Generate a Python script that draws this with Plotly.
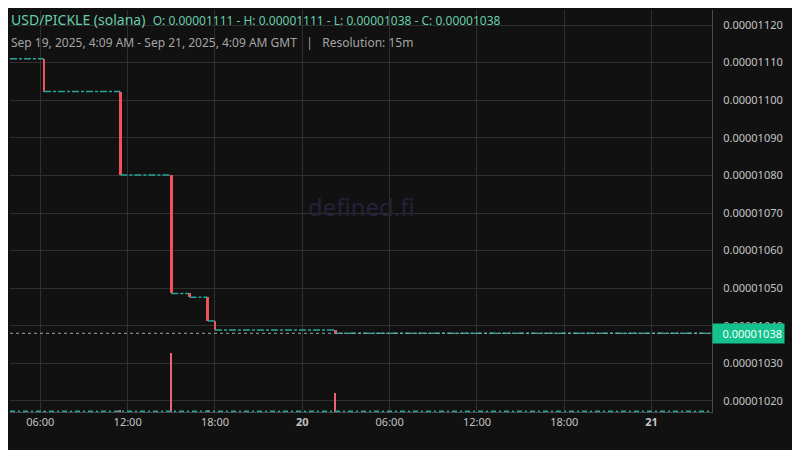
import plotly.graph_objects as go
import pandas as pd

# ---- data (prices in USD) ----
range_start = "2025-09-19 03:55"
range_end = "2025-09-21 04:09"

drop_times = ["2025-09-19 06:15", "2025-09-19 11:30", "2025-09-19 15:00",
              "2025-09-19 16:15", "2025-09-19 17:30", "2025-09-19 18:00",
              "2025-09-20 02:15"]
drop_open = [0.00001111, 0.000011023, 0.000010801, 0.000010487,
             0.000010476, 0.000010414, 0.000010390]
drop_close = [0.000011023, 0.000010801, 0.000010486, 0.000010476,
              0.000010413, 0.000010389, 0.00001038]

vol_times = ["2025-09-19 06:15", "2025-09-19 11:30", "2025-09-19 15:00",
             "2025-09-19 17:30", "2025-09-20 02:15"]
vol_values = [2.5, 4, 147, 4, 48]
vol_base = 1.0

last_close = 0.00001038
ohlc_text = "O: 0.00001111 - H: 0.00001111 - L: 0.00001038 - C: 0.00001038"

xtick_vals = ["2025-09-19 06:00", "2025-09-19 12:00", "2025-09-19 18:00",
              "2025-09-20 00:00", "2025-09-20 06:00", "2025-09-20 12:00",
              "2025-09-20 18:00", "2025-09-21 00:00"]
xtick_text = ["06:00", "12:00", "18:00", "<b>20</b>", "06:00", "12:00",
              "18:00", "<b>21</b>"]

# ---- styles ----
BG = "#111111"
GRID = "#2f2f2f"
UP = "#26a69a"
DOWN = "#f0525a"
VOL_DOWN = "#ea6479"
TEXT = "#c4c4c4"

fig = go.Figure()

# flat (unchanged) candles, drawn as dashed runs at each level
seg_starts = [range_start] + drop_times
seg_ends = drop_times + [range_end]
seg_levels = [drop_open[0]] + drop_close
for s, e, lv in zip(seg_starts, seg_ends, seg_levels):
    fig.add_trace(go.Scatter(
        x=[s, e], y=[lv, lv], mode="lines",
        line=dict(color=UP, width=1.5, dash="7px,2px,3px,2px"),
        hoverinfo="skip", showlegend=False, yaxis="y"))

# red candles
candle_w = 15 * 60 * 1000 * 0.8
fig.add_trace(go.Bar(
    x=pd.to_datetime(drop_times), y=[o - c for o, c in zip(drop_open, drop_close)],
    base=drop_close, width=candle_w, marker=dict(color=DOWN, line=dict(width=0)),
    showlegend=False, yaxis="y"))

# volume
fig.add_trace(go.Scatter(
    x=[range_start, range_end], y=[vol_base, vol_base], mode="lines",
    line=dict(color=UP, width=2, dash="5px,3px,2px,3px"),
    hoverinfo="skip", showlegend=False, yaxis="y2"))
fig.add_trace(go.Bar(
    x=pd.to_datetime(vol_times), y=vol_values, width=15 * 60 * 1000 * 0.6,
    marker=dict(color=VOL_DOWN, line=dict(width=0)),
    showlegend=False, yaxis="y2"))

# last price line
fig.add_shape(type="line", xref="paper", yref="y", x0=0, x1=1,
              y0=last_close, y1=last_close,
              line=dict(color="#9aa0a0", width=1, dash="dot"))

fig.update_layout(
    width=792, height=442,
    margin=dict(l=2, r=88, t=2, b=38),
    paper_bgcolor=BG, plot_bgcolor=BG,
    font=dict(family="Noto Sans", color=TEXT, size=11),
    barmode="overlay", bargap=0,
    xaxis=dict(
        type="date", range=[range_start, range_end],
        tickvals=xtick_vals, ticktext=xtick_text,
        showgrid=True, gridcolor=GRID, gridwidth=1,
        showline=True, linecolor="#4a4a4a", linewidth=1,
        zeroline=False, ticks="", tickfont=dict(size=11, color=TEXT),
        fixedrange=True,
    ),
    yaxis=dict(
        side="right", range=[0.0000101707, 0.00001124],
        dtick=0.0000001, tick0=0.0000102, tickformat=".8f",
        showgrid=True, gridcolor=GRID, gridwidth=1,
        showline=True, linecolor="#4a4a4a", linewidth=1,
        zeroline=False, ticks="", ticklabelstandoff=8,
        tickfont=dict(size=11, color=TEXT), automargin=False,
    ),
    yaxis2=dict(
        overlaying="y", range=[0, 1000], visible=False, fixedrange=True,
    ),
)

# price label
fig.add_annotation(
    xref="paper", yref="y", x=1, y=last_close, xanchor="left", yanchor="middle",
    text=f"{last_close:.8f}", showarrow=False, bgcolor="#15c28e",
    font=dict(color="#f2fffa", size=11), borderpad=2, width=67, align="right")

# watermark
fig.add_annotation(
    xref="paper", yref="paper", x=0.5, y=0.51, text="defined.fi",
    showarrow=False, font=dict(size=24, color="#242239"))

# header
fig.add_annotation(
    xref="paper", yref="paper", x=0, y=1, xanchor="left", yanchor="top",
    yshift=2, xshift=-1,
    text=("<span style='font-size:14px'>USD/PICKLE (solana)</span>  "
          f"<span style='font-size:12px'>{ohlc_text}</span>"),
    showarrow=False, font=dict(color="#68cdaa", size=14), align="left")
fig.add_annotation(
    xref="paper", yref="paper", x=0, y=1, xanchor="left", yanchor="top",
    yshift=-22, xshift=-1,
    text="Sep 19, 2025, 4:09 AM - Sep 21, 2025, 4:09 AM GMT   |   Resolution: 15m",
    showarrow=False, font=dict(color="#a4a4a4", size=12), align="left")

fig.write_html("out.html")
